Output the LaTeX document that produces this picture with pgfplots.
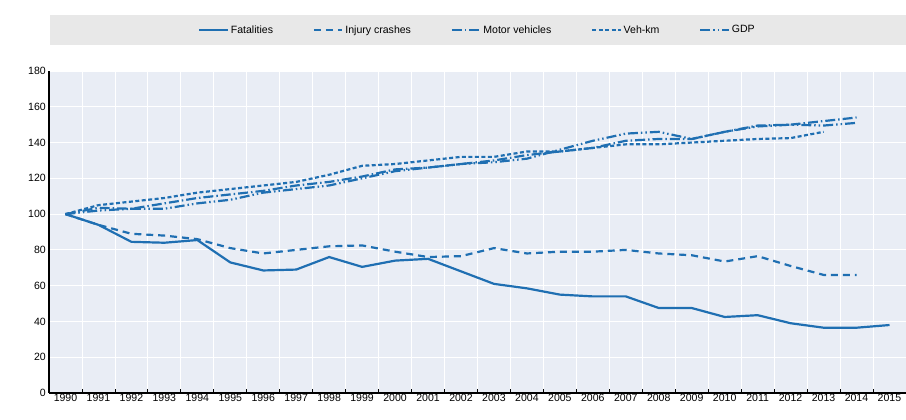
\documentclass[border=0pt]{standalone}
\usepackage{pgfplots}
\pgfplotsset{compat=1.18}
\usepackage{fontspec}
\setmainfont{Liberation Sans}[Scale=0.92]
\definecolor{oblue}{RGB}{31,111,178}
\definecolor{bgc}{RGB}{233,237,245}
\definecolor{legc}{RGB}{232,232,232}
\begin{document}
\begin{tikzpicture}[x=1bp,y=1bp]
\path[use as bounding box] (-49,-26) rectangle (857,393);
\fill[legc] (1,348) rectangle (857,378);
\begin{axis}[
  scale only axis, width=857bp, height=322bp,
  xmin=1989.5, xmax=2015.5, ymin=0, ymax=180,
  axis background/.style={fill=bgc},
  axis x line*=bottom, axis y line*=left,
  axis line style={-, line width=1.3pt},
  xtick={1990,...,2015}, xticklabels={1990,1991,1992,1993,1994,1995,1996,1997,1998,1999,2000,2001,2002,2003,2004,2005,2006,2007,2008,2009,2010,2011,2012,2013,2014,2015},
  major tick length=0pt,
  extra x ticks={1990.5,1991.5,...,2015.5}, extra x tick labels={},
  extra x tick style={grid=major, major grid style={white, line width=0.8pt}, major tick length=4pt, tick style={black,line width=0.8pt}},
  ytick={0,20,...,180},
  ymajorgrids, major grid style={white, line width=0.8pt},
  tick label style={font=\fontsize{11.5}{13}\selectfont},
  /pgf/number format/assume math mode=true,
  xticklabel style={yshift=2pt},
  clip=false,
  legend columns=5,
  legend style={at={(0.5,1.0)}, anchor=center, yshift=41bp, draw=none, fill=none,
    font=\fontsize{11.5}{13}\selectfont, /tikz/every even column/.append style={column sep=38pt}},
  legend image code/.code={\draw[#1] (0,0) -- (1.0cm,0);},
]
\addplot[oblue, line width=2.2pt, no marks, solid] coordinates {(1990,100)(1991,94)(1992,84.5)(1993,84)(1994,85.5)(1995,73)(1996,68.5)(1997,69)(1998,76)(1999,70.5)(2000,74)(2001,75)(2002,68)(2003,61)(2004,58.5)(2005,55)(2006,54)(2007,54)(2008,47.5)(2009,47.5)(2010,42.5)(2011,43.5)(2012,39)(2013,36.5)(2014,36.5)(2015,38)};
\addlegendentry{Fatalities}
\addplot[oblue, line width=2.2pt, no marks, dash pattern=on 7pt off 5pt] coordinates {(1990,100)(1991,94)(1992,89)(1993,88)(1994,86)(1995,81)(1996,78)(1997,80)(1998,82)(1999,82.5)(2000,79)(2001,76)(2002,76.5)(2003,81)(2004,78)(2005,79)(2006,79)(2007,80)(2008,78)(2009,77)(2010,73.5)(2011,76.5)(2012,71)(2013,66)(2014,66)};
\addlegendentry{Injury crashes}
\addplot[oblue, line width=2.2pt, no marks, dash pattern=on 10pt off 3pt on 1.5pt off 3pt] coordinates {(1990,100)(1991,103.5)(1992,103)(1993,106)(1994,109)(1995,111)(1996,113)(1997,116)(1998,118)(1999,121)(2000,125)(2001,126)(2002,128)(2003,130)(2004,133)(2005,135)(2006,137)(2007,141)(2008,142)(2009,142)(2010,146)(2011,149.5)(2012,150)(2013,152)(2014,154)};
\addlegendentry{Motor vehicles}
\addplot[oblue, line width=2.2pt, no marks, dash pattern=on 4pt off 2.5pt] coordinates {(1990,100)(1991,105)(1992,107)(1993,109)(1994,112)(1995,114)(1996,116)(1997,118)(1998,122)(1999,127)(2000,128)(2001,130)(2002,132)(2003,132)(2004,135)(2005,135)(2006,137)(2007,139)(2008,139)(2009,140)(2010,141)(2011,142)(2012,142.5)(2013,146)};
\addlegendentry{Veh-km}
\addplot[oblue, line width=2.2pt, no marks, dash pattern=on 10pt off 3pt on 1.5pt off 3pt on 1.5pt off 3pt] coordinates {(1990,100)(1991,102)(1992,103)(1993,103)(1994,106)(1995,108)(1996,112)(1997,114)(1998,116)(1999,120)(2000,124)(2001,126)(2002,128)(2003,129)(2004,131)(2005,136)(2006,141)(2007,145)(2008,146)(2009,142)(2010,146)(2011,149)(2012,150)(2013,149.5)(2014,151)};
\addlegendentry{GDP}
\end{axis}
\end{tikzpicture}
\end{document}
